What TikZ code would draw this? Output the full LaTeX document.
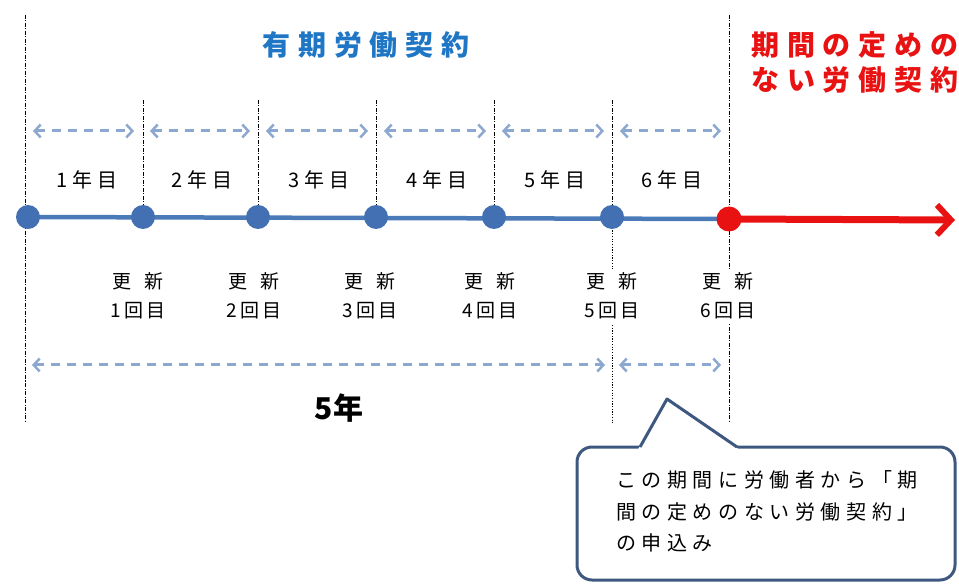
\documentclass[tikz,border=0pt]{standalone}
\usepackage{fontspec}
\setmainfont{Noto Sans CJK JP}
\newfontfamily\jpsp[LetterSpace=28]{Noto Sans CJK JP}
\newfontfamily\jpyr[LetterSpace=25]{Noto Sans CJK JP}
\newfontfamily\jpup[LetterSpace=18]{Noto Sans CJK JP}
\usetikzlibrary{arrows.meta}
\definecolor{titleblue}{RGB}{30,118,196}
\definecolor{tlred}{RGB}{232,18,18}
\definecolor{tlblue}{RGB}{74,122,184}
\definecolor{dotblue}{RGB}{66,112,178}
\definecolor{lightarr}{RGB}{140,168,208}
\definecolor{bubbleedge}{RGB}{62,88,128}
\newcommand{\koushin}{\makebox[52pt][s]{更\hfill{}新}}
\tikzset{
  guide/.style={black, line width=1pt, dash pattern=on 4pt off 1.5pt on 1pt off 1.5pt},
  guidedot/.style={black, line width=1pt, dash pattern=on 1.2pt off 1.5pt},
  periodarr/.style={lightarr, line width=3pt, dash pattern=on 9pt off 7pt,
    {Straight Barb[length=6pt,width=13pt,line width=2.5pt]}-{Straight Barb[length=6pt,width=13pt,line width=2.5pt]}},
  bluedot/.style={circle, fill=dotblue, minimum size=24pt, inner sep=0pt},
  reddot/.style={circle, fill=tlred, minimum size=25pt, inner sep=0pt},
  titlelbl/.style={font=\jpsp\fontsize{28pt}{34pt}\selectfont\bfseries, inner sep=0pt},
  yearlbl/.style={font=\jpyr\fontsize{20pt}{24pt}\selectfont, inner sep=0pt},
  updlbl/.style={font=\jpup\fontsize{19pt}{29pt}\selectfont, align=center, fill=white, inner sep=4pt},
  ctxt/.style={font=\jpsp\fontsize{20pt}{24pt}\selectfont, anchor=base west, inner sep=0pt},
  bubble/.style={bubbleedge, line width=3pt, line join=round}
}
\begin{document}
\begin{tikzpicture}[x=1pt,y=-1pt]
\useasboundingbox (0,0) rectangle (959,585);
% guide coordinates
\coordinate (g1t) at (25,15);   \coordinate (g1b) at (25,421);
\coordinate (g2t) at (143,100); \coordinate (g2b) at (143,217);
\coordinate (g3t) at (258,100); \coordinate (g3b) at (258,217);
\coordinate (g4t) at (376,100); \coordinate (g4b) at (376,217);
\coordinate (g5t) at (494,100); \coordinate (g5b) at (494,217);
\coordinate (g6t) at (612,100); \coordinate (g6m) at (612,217); \coordinate (g6b) at (612,423);
\coordinate (g7t) at (729,15);  \coordinate (g7b) at (729,422);
% vertical guides
\draw[guide] (g1t) -- (g1b);
\draw[guide] (g2t) -- (g2b);
\draw[guide] (g3t) -- (g3b);
\draw[guide] (g4t) -- (g4b);
\draw[guide] (g5t) -- (g5b);
\draw[guide] (g6t) -- (g6m);
\draw[guidedot] (g6m) -- (g6b);
\draw[guide] (g7t) -- (g7b);
% timeline
\coordinate (d1) at (28,217);
\coordinate (d2) at (143,217);
\coordinate (d3) at (258,217);
\coordinate (d4) at (376,217);
\coordinate (d5) at (494,217);
\coordinate (d6) at (612,217);
\coordinate (d7) at (729,219);
\coordinate (tend) at (955,220);
\draw[tlblue, line width=4.5pt] (d1) -- (d7);
\node[bluedot] (n1) at (d1) {};
\node[bluedot] (n2) at (d2) {};
\node[bluedot] (n3) at (d3) {};
\node[bluedot] (n4) at (d4) {};
\node[bluedot] (n5) at (d5) {};
\node[bluedot] (n6) at (d6) {};
\draw[tlred, line width=7pt, -{Straight Barb[length=14pt,width=30pt,line width=6pt]}] (d7) -- (tend);
\node[reddot] (n7) at (d7) {};
% period arrows
\coordinate (a1l) at (33,131);  \coordinate (a1r) at (134,131);
\coordinate (a2l) at (150,131); \coordinate (a2r) at (250,131);
\coordinate (a3l) at (266,131); \coordinate (a3r) at (368,131);
\coordinate (a4l) at (384,131); \coordinate (a4r) at (486,131);
\coordinate (a5l) at (502,131); \coordinate (a5r) at (604,131);
\coordinate (a6l) at (620,131); \coordinate (a6r) at (721,131);
\draw[periodarr] (a1l) -- (a1r);
\draw[periodarr] (a2l) -- (a2r);
\draw[periodarr] (a3l) -- (a3r);
\draw[periodarr] (a4l) -- (a4r);
\draw[periodarr] (a5l) -- (a5r);
\draw[periodarr] (a6l) -- (a6r);
\coordinate (l1l) at (32,365);  \coordinate (l1r) at (605,365);
\coordinate (l2l) at (619,365); \coordinate (l2r) at (721,365);
\draw[periodarr] (l1l) -- (l1r);
\draw[periodarr] (l2l) -- (l2r);
% titles
\node[titlelbl, text=titleblue] (tfix) at (366,45) {有期労働契約};
\node[titlelbl, text=tlred, anchor=west] (topen1) at (751,45) {期間の定めの};
\node[titlelbl, text=tlred, anchor=west] (topen2) at (751,80) {ない労働契約};
% year labels
\node[yearlbl] (y1) at (87,180) {1年目};
\node[yearlbl] (y2) at (202,180) {2年目};
\node[yearlbl] (y3) at (319,180) {3年目};
\node[yearlbl] (y4) at (437,180) {4年目};
\node[yearlbl] (y5) at (555,180) {5年目};
\node[yearlbl] (y6) at (672,180) {6年目};
% update labels
\node[updlbl] (u1) at (138,296) {\koushin\\1回目};
\node[updlbl] (u2) at (254,296) {\koushin\\2回目};
\node[updlbl] (u3) at (370,296) {\koushin\\3回目};
\node[updlbl] (u4) at (490,296) {\koushin\\4回目};
\node[updlbl] (u5) at (612,296) {\koushin\\5回目};
\node[updlbl] (u6) at (728,296) {\koushin\\6回目};
% five years
\node[font=\fontsize{30pt}{34pt}\selectfont\bfseries, inner sep=0pt] (five) at (339,408) {5年};
% callout
\draw[bubble, fill=white, rounded corners=15pt] (577,447) rectangle (955,580);
\coordinate (pb1) at (640,447);
\coordinate (ptip) at (667,399);
\coordinate (pb2) at (737,447);
\fill[white] (638,449.5) -- (ptip) -- (739,449.5) -- cycle;
\draw[bubble] (pb1) -- (ptip) -- (pb2);
\node[ctxt] (c1) at (616,487) {この期間に労働者から「期};
\node[ctxt] (c2) at (616,519) {間の定めのない労働契約」};
\node[ctxt] (c3) at (616,550) {の申込み};
\end{tikzpicture}
\end{document}
